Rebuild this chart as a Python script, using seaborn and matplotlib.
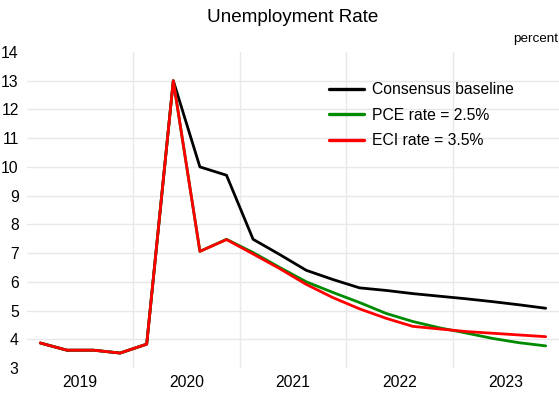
import numpy as np
import pandas as pd
import matplotlib
matplotlib.use("Agg")
import matplotlib.pyplot as plt
import seaborn as sns

# quarterly data, 2019Q1 .. 2023Q4
quarters = pd.period_range("2019Q1", "2023Q4", freq="Q")
baseline = [3.87, 3.62, 3.62, 3.52, 3.83, 13.0, 10.0, 9.71, 7.48, 6.95,
            6.40, 6.08, 5.79, 5.70, 5.59, 5.50, 5.41, 5.31, 5.20, 5.08]
pce_25 = [3.87, 3.62, 3.62, 3.52, 3.83, 13.0, 7.06, 7.48, 7.02, 6.50,
          6.00, 5.63, 5.28, 4.90, 4.62, 4.40, 4.22, 4.03, 3.88, 3.77]
eci_35 = [3.87, 3.62, 3.62, 3.52, 3.83, 13.0, 7.06, 7.47, 6.97, 6.46,
          5.91, 5.45, 5.06, 4.73, 4.45, 4.36, 4.27, 4.21, 4.15, 4.09]
series_names = ["Consensus baseline", "PCE rate = 2.5%", "ECI rate = 3.5%"]
colors = {"Consensus baseline": "black", "PCE rate = 2.5%": "#008a00", "ECI rate = 3.5%": "#ff0000"}
years = [2019, 2020, 2021, 2022, 2023]

# quarter mid-points in fractional years
t = quarters.year + (quarters.quarter - 0.5) / 4
df = pd.concat([
    pd.DataFrame({"t": t, "rate": vals, "series": name})
    for name, vals in zip(series_names, [baseline, pce_25, eci_35])
])

sns.set_style("white", {"text.color": "black", "xtick.color": "black", "ytick.color": "black"})
plt.rcParams["font.family"] = ["Liberation Sans", "DejaVu Sans"]

fig = plt.figure(figsize=(5.59, 3.95), dpi=100)
ax = fig.add_axes([27 / 559, 1 - 368 / 395, 532 / 559, 316 / 395])

sns.lineplot(data=df, x="t", y="rate", hue="series", hue_order=series_names,
             palette=colors, linewidth=2.0, ax=ax, legend=True)

ax.set_xlim(2019, 2024)
ax.set_ylim(3, 14)
ax.set_yticks(range(3, 15))
ax.set_xticks(range(2019, 2025))
ax.set_xticklabels([])
ax.set_xticks([y + 0.5 for y in years], minor=True)
ax.set_xticklabels([str(y) for y in years], minor=True)
ax.tick_params(axis="both", which="both", length=0, labelsize=11.3, labelcolor="black")
ax.tick_params(axis="y", pad=6)
ax.tick_params(axis="x", which="minor", pad=5)
ax.grid(True, which="major", color="#e8e8e8", linewidth=1.0)
for gl in ax.yaxis.get_gridlines()[:1] + ax.yaxis.get_gridlines()[-1:]:
    gl.set_visible(False)
for gl in ax.xaxis.get_gridlines()[:1] + ax.xaxis.get_gridlines()[-1:]:
    gl.set_visible(False)
for s in ax.spines.values():
    s.set_visible(False)
ax.set_xlabel("")
ax.set_ylabel("")

leg = ax.legend(loc="upper left", bbox_to_anchor=(0.568, 0.905), frameon=False,
                fontsize=11.3, handlelength=2.2, handletextpad=0.5,
                labelspacing=0.68, borderpad=0, borderaxespad=0, labelcolor="black")
for line in leg.get_lines():
    line.set_linewidth(2.4)

fig.text(293 / 559, 1 - 18 / 395, "Unemployment Rate", ha="center", va="center",
         fontsize=13.6, color="black")
fig.text(558 / 559, 1 - 39 / 395, "percent", ha="right", va="center",
         fontsize=9.7, color="black")

fig.savefig("out.png", dpi=100)
